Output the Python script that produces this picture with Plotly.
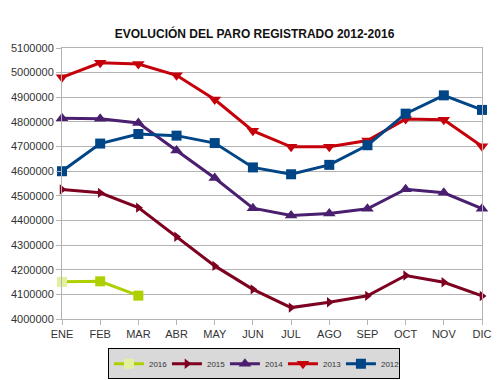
import plotly.graph_objects as go

months = ["ENE", "FEB", "MAR", "ABR", "MAY", "JUN", "JUL", "AGO", "SEP", "OCT", "NOV", "DIC"]
y2016 = [4150710, 4152986, 4094770]
y2015 = [4525691, 4512116, 4451939, 4333669, 4215585, 4120304, 4046276, 4067955, 4094042, 4176369, 4149298, 4093508]
y2014 = [4814435, 4812486, 4795866, 4684301, 4572385, 4449701, 4419860, 4427930, 4447650, 4526804, 4512153, 4447711]
y2013 = [4980778, 5040222, 5035243, 4989193, 4890928, 4763680, 4698814, 4698783, 4724355, 4811383, 4808908, 4701338]
y2012 = [4599829, 4712098, 4750867, 4744235, 4714122, 4615269, 4587455, 4625634, 4705279, 4833521, 4907817, 4848723]
y_ticks = list(range(4000000, 5100001, 100000))

series = [
    ("2016", y2016, "#aecf00", "square", 10),
    ("2015", y2015, "#7e0021", "triangle-right", 9),
    ("2014", y2014, "#4b1f6f", "triangle-up", 11),
    ("2013", y2013, "#c5000b", "triangle-down", 11),
    ("2012", y2012, "#004586", "square", 10),
]

fig = go.Figure()
for name, vals, col, sym, size in series:
    mcol = col
    if name == "2016":
        mcol = ["#e4efa0"] + [col] * (len(vals) - 1)
    fig.add_trace(go.Scatter(
        x=months[:len(vals)], y=vals, name=name, mode="lines+markers",
        line=dict(color=col, width=3),
        marker=dict(symbol=sym, size=size, color=mcol),
        cliponaxis=False,
    ))

fig.update_layout(
    width=500, height=380,
    margin=dict(l=62, r=18, t=48, b=61, autoexpand=False),
    paper_bgcolor="white", plot_bgcolor="white",
    title=dict(text="<b>EVOLUCIÓN DEL PARO REGISTRADO 2012-2016</b>", x=0.509, xanchor="center",
               y=1 - 34 / 380, yanchor="middle",
               font=dict(family="Liberation Sans, Arial", size=12, color="#111111")),
    font=dict(family="Liberation Sans, Arial", size=11, color="#333333"),
    showlegend=True,
    legend=dict(orientation="h", x=0.457, xanchor="center", y=-0.108, yanchor="top",
                bgcolor="#d9d9d9", bordercolor="#000000", borderwidth=1,
                font=dict(size=8, color="#333333"), traceorder="normal",
                itemwidth=30, tracegroupgap=0, entrywidth=13, entrywidthmode="pixels"),
)
fig.update_xaxes(
    type="category", categoryorder="array", categoryarray=months,
    range=[0, 11], showgrid=False, showline=True, linecolor="#b3b3b3", mirror=True,
    ticks="outside", ticklen=5, tickcolor="#b3b3b3",
    tickfont=dict(size=11, color="#333333"),
)
fig.update_yaxes(
    range=[4000000, 5100000], tickvals=y_ticks, ticktext=[str(v) for v in y_ticks],
    showgrid=True, gridcolor="#b3b3b3", gridwidth=1,
    showline=True, linecolor="#b3b3b3", mirror=True,
    ticks="outside", ticklen=5, tickcolor="#b3b3b3", zeroline=False,
    tickfont=dict(size=11, color="#333333"),
)

fig.write_html("out.html", config={"displayModeBar": False},
               post_script="document.body.style.margin='0';document.body.style.overflow='hidden';")
